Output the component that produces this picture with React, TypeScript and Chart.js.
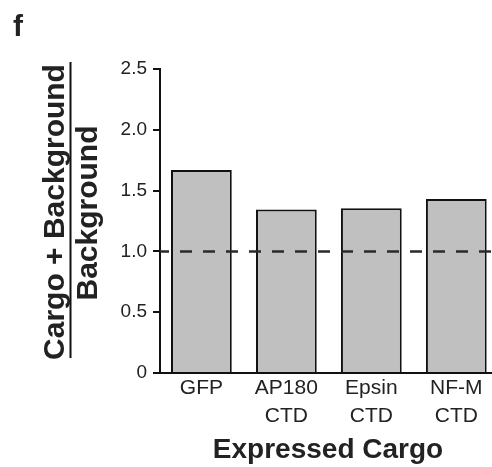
import React, { useEffect, useRef } from "react";
import { Chart, registerables } from "chart.js";

Chart.register(...registerables);

// ---- data ----
const categories: string[][] = [["GFP"], ["AP180", "CTD"], ["Epsin", "CTD"], ["NF-M", "CTD"]];
const ratioValues: number[] = [1.67, 1.345, 1.355, 1.43];
const yTickValues: number[] = [0, 0.5, 1.0, 1.5, 2.0, 2.5];
const yTickLabels: string[] = ["0", "0.5", "1.0", "1.5", "2.0", "2.5"];
const referenceLevel = 1.0;
const panelLetter = "f";
const xTitle = "Expressed Cargo";
const yTitleNumerator = "Cargo + Background";
const yTitleDenominator = "Background";

const FONT = '"Liberation Sans", Arial, Helvetica, sans-serif';
const TEXT = "#222222";

const annotatePlugin = {
  id: "annotate",
  afterDatasetsDraw(chart: any) {
    const { ctx, chartArea, scales } = chart;
    const y = scales.y.getPixelForValue(referenceLevel);
    ctx.save();
    ctx.beginPath();
    ctx.setLineDash([12, 11]);
    ctx.lineDashOffset = 3;
    ctx.strokeStyle = "#2a2a2a";
    ctx.lineWidth = 2.5;
    ctx.moveTo(chartArea.left, y);
    ctx.lineTo(chartArea.right, y);
    ctx.stroke();
    ctx.restore();
  },
  afterDraw(chart: any) {
    const { ctx, chartArea } = chart;
    ctx.save();
    ctx.fillStyle = TEXT;
    ctx.textBaseline = "alphabetic";

    // panel letter
    ctx.textAlign = "left";
    ctx.font = `bold 30px ${FONT}`;
    ctx.fillText(panelLetter, 13, 36);

    // x title
    ctx.textAlign = "center";
    ctx.font = `bold 28px ${FONT}`;
    ctx.fillText(xTitle, (chartArea.left + chartArea.right) / 2 + 2, 458);

    // y title (fraction)
    ctx.font = `bold 30px ${FONT}`;
    ctx.save();
    ctx.translate(64, 212);
    ctx.rotate(-Math.PI / 2);
    ctx.fillText(yTitleNumerator, 0, 0);
    ctx.restore();

    ctx.save();
    ctx.translate(97, 213);
    ctx.rotate(-Math.PI / 2);
    ctx.fillText(yTitleDenominator, 0, 0);
    ctx.restore();

    ctx.fillStyle = "#111";
    ctx.fillRect(69.5, 62, 2, 296);
    ctx.restore();
  },
};

export default function App() {
  const canvasRef = useRef<HTMLCanvasElement | null>(null);

  useEffect(() => {
    if (!canvasRef.current) return;
    const chart = new Chart(canvasRef.current, {
      type: "bar",
      data: {
        datasets: [
          {
            data: ratioValues.map((v, i) => ({ x: i, y: v })),
            backgroundColor: "#c0c0c0",
            borderColor: "#111111",
            borderWidth: 2,
            categoryPercentage: 1,
            barPercentage: 0.715,
          },
        ],
      },
      options: {
        responsive: false,
        animation: false,
        devicePixelRatio: 1,
        layout: { padding: { top: 69, right: 0, bottom: 0, left: 0 } },
        plugins: { legend: { display: false }, tooltip: { enabled: false } },
        scales: {
          x: {
            type: "linear",
            min: -0.487,
            max: 3.42,
            offset: false,
            afterBuildTicks: (scale: any) => {
              scale.ticks = categories.map((_, i) => ({ value: i }));
            },
            afterFit: (scale: any) => {
              scale.height = 94;
            },
            ticks: {
              autoSkip: false,
              maxRotation: 0,
              minRotation: 0,
              padding: 2,
              color: TEXT,
              font: { family: FONT, size: 21, lineHeight: 1.3 },
              callback: (v: any) => categories[v] ?? "",
            },
            grid: { display: false, drawTicks: false },
            border: { display: true, color: "#111111", width: 2 },
          },
          y: {
            type: "linear",
            min: 0,
            max: 2.5,
            afterBuildTicks: (scale: any) => {
              scale.ticks = yTickValues.map((v) => ({ value: v }));
            },
            afterFit: (scale: any) => {
              scale.width = 160;
            },
            ticks: {
              padding: 6,
              color: TEXT,
              font: { family: FONT, size: 19 },
              callback: (_v: any, i: number) => yTickLabels[i],
            },
            grid: {
              display: true,
              drawOnChartArea: false,
              drawTicks: true,
              tickLength: 7,
              color: "#111111",
              lineWidth: 2,
            },
            border: { display: true, color: "#111111", width: 2 },
          },
        },
      },
      plugins: [annotatePlugin],
    } as any);
    return () => chart.destroy();
  }, []);

  return (
    <div style={{ position: "fixed", left: 0, top: 0, width: 492, height: 467, background: "#fff" }}>
      <canvas ref={canvasRef} width={492} height={467} style={{ display: "block" }} />
    </div>
  );
}
